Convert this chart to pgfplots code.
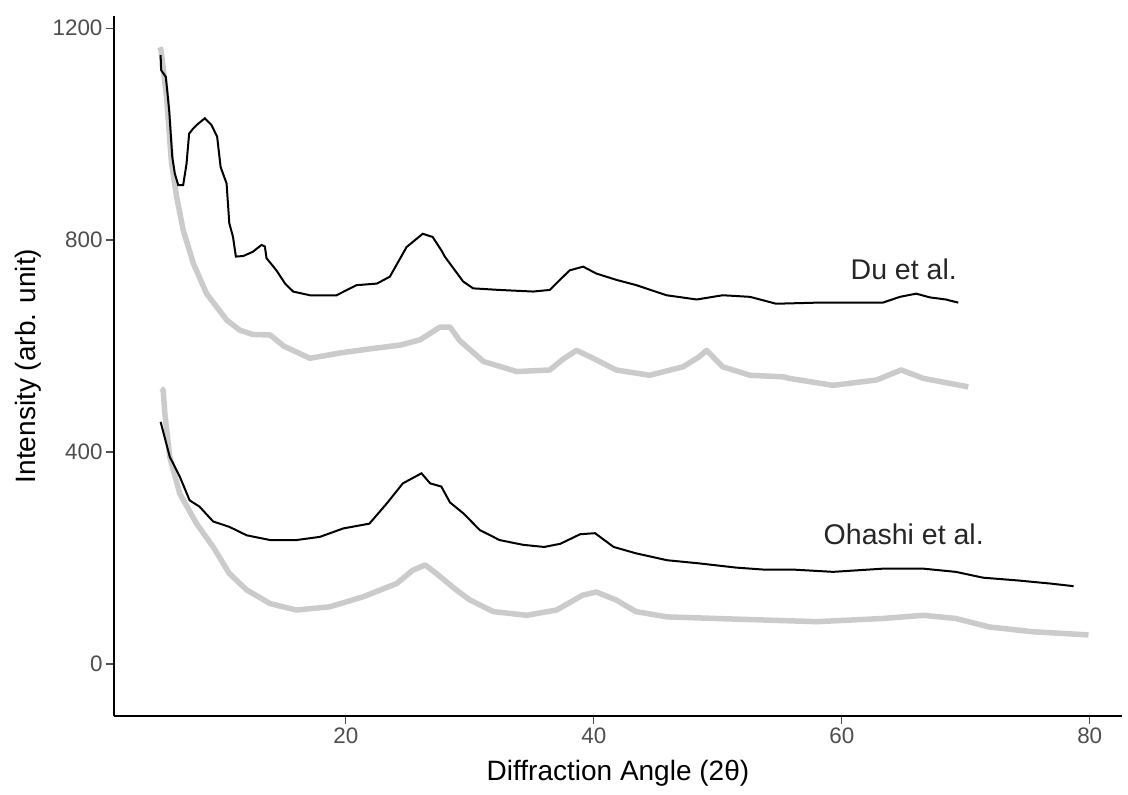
\documentclass[border=0pt]{standalone}
\usepackage{fontspec}
\setmainfont{Liberation Sans}
\usepackage{pgfplots}
\pgfplotsset{compat=1.18}
\definecolor{tickgray}{HTML}{4D4D4D}
\definecolor{linegray}{HTML}{CBCBCB}
\begin{document}
\begin{tikzpicture}
\begin{axis}[
  scale only axis, width=1008pt, height=700pt,
  xmin=1.3, xmax=82.6, ymin=-98, ymax=1223,
  axis x line*=bottom, axis y line*=left,
  axis line style={line width=1.5pt, -},
  xtick={20,40,60,80}, ytick={0,400,800,1200},
  tick align=outside, major tick length=8pt,
  tick style={line width=1.3pt, color=tickgray},
  /pgf/number format/assume math mode=true,
  /pgf/number format/1000 sep={},
  ticklabel style={font=\fontsize{22.4}{26}\selectfont, text=tickgray},
  xlabel={Diffraction Angle (2θ)},
  ylabel={Intensity (arb. unit)},
  label style={font=\fontsize{28}{32}\selectfont},
  xlabel style={at={(axis description cs:0.5,-0.0814)}, anchor=center},
  ylabel style={at={(axis description cs:-0.0853,0.5)}, anchor=center, rotate=0},
  clip=false,
]
% Du gray
\addplot[linegray, line width=5.5pt, line join=round] coordinates {
(5.0,1164)(5.1,1158)(5.54,1070)(5.94,945)(6.35,882)(6.88,819)(7.7,756)(8.77,699)(10.4,649)(11.45,630)(12.5,622)(13.9,621)(15,600)(17.1,577)(19.5,587)(22,595)(24.4,602)(26,612)(27.6,636)(28.4,636)(29.2,610)(31.1,571)(33.8,552)(36.45,555)(37.5,575)(38.6,592)(39.7,580)(41.8,555)(44.5,545)(47.2,561)(48.5,580)(49.1,592)(50.4,561)(52.6,545)(55.3,542)(55.8,539)(59.3,526)(62.8,536)(64.8,555)(66.6,539)(69.8,525)(70.2,523)
};
% Ohashi gray
\addplot[linegray, line width=5.5pt, line join=round] coordinates {
(5.1,520)(5.27,517)(5.4,473)(5.8,391)(6.6,322)(7.96,265)(9.3,221)(10.6,171)(12.0,140)(13.9,114)(16.0,102)(18.7,108)(21.4,127)(24.1,152)(25.4,177)(26.4,187)(27.3,171)(28.9,140)(30.0,121)(31.9,99)(34.6,92)(37.0,102)(39.1,130)(40.2,136)(41.8,121)(43.4,99)(45.9,89)(49.9,86)(53.9,83)(58.0,80)(63.3,86)(66.6,92)(69.2,86)(71.9,70)(75.4,61)(79.9,55)
};
% Du black
\addplot[black, line width=2pt] coordinates {
(5.06,1149)(5.1,1121)(5.48,1108)(5.75,1045)(6.0,957)(6.2,926)(6.48,904)(6.88,904)(7.15,944)(7.36,1001)(7.7,1011)(8.1,1020)(8.63,1030)(9.17,1017)(9.62,995)(9.9,938)(10.38,907)(10.6,832)(10.9,806)(11.13,769)(11.72,770)(12.5,778)(13.2,791)(13.47,788)(13.6,766)(14.4,743)(15.1,718)(15.75,703)(17.1,696)(19.25,696)(20.86,715)(22.5,718)(23.55,731)(24.9,787)(26.2,812)(27.0,806)(27.7,781)(27.98,769)(28.8,743)(29.46,722)(30.27,709)(32.4,706)(35.1,703)(36.45,706)(37.26,725)(38.06,743)(39.14,750)(40.2,737)(41.83,725)(43.44,715)(45.86,696)(48.3,688)(50.4,696)(52.6,693)(54.7,680)(57.96,682)(63.3,682)(64.7,693)(66.0,699)(67.1,692)(68.4,688)(69.4,682)
};
% Ohashi black
\addplot[black, line width=2pt] coordinates {
(5.06,457)(5.8,391)(6.6,354)(7.4,309)(8.2,297)(9.3,269)(10.6,259)(12.0,243)(13.9,234)(16.0,234)(17.9,240)(19.8,256)(21.9,265)(23.3,303)(24.6,341)(26.1,360)(26.8,341)(27.7,335)(28.4,305)(29.5,284)(30.8,253)(32.4,234)(34.3,225)(36.0,221)(37.3,227)(38.9,245)(40.1,247)(41.6,221)(43.4,209)(45.9,196)(48.5,190)(51.5,182)(53.9,178)(56.3,178)(59.3,174)(63.3,180)(66.6,180)(69.2,174)(71.4,163)(74.1,158)(76.8,152)(78.7,147)
};
\node[font=\fontsize{28.5}{32}\selectfont, text=black!85] at (axis cs:65,745) {Du et al.};
\node[font=\fontsize{28.5}{32}\selectfont, text=black!85] at (axis cs:65,245) {Ohashi et al.};
\end{axis}
\pgfresetboundingbox
\path[use as bounding box] (-114pt,-79pt) rectangle (1014pt,716pt);
\end{tikzpicture}
\end{document}
